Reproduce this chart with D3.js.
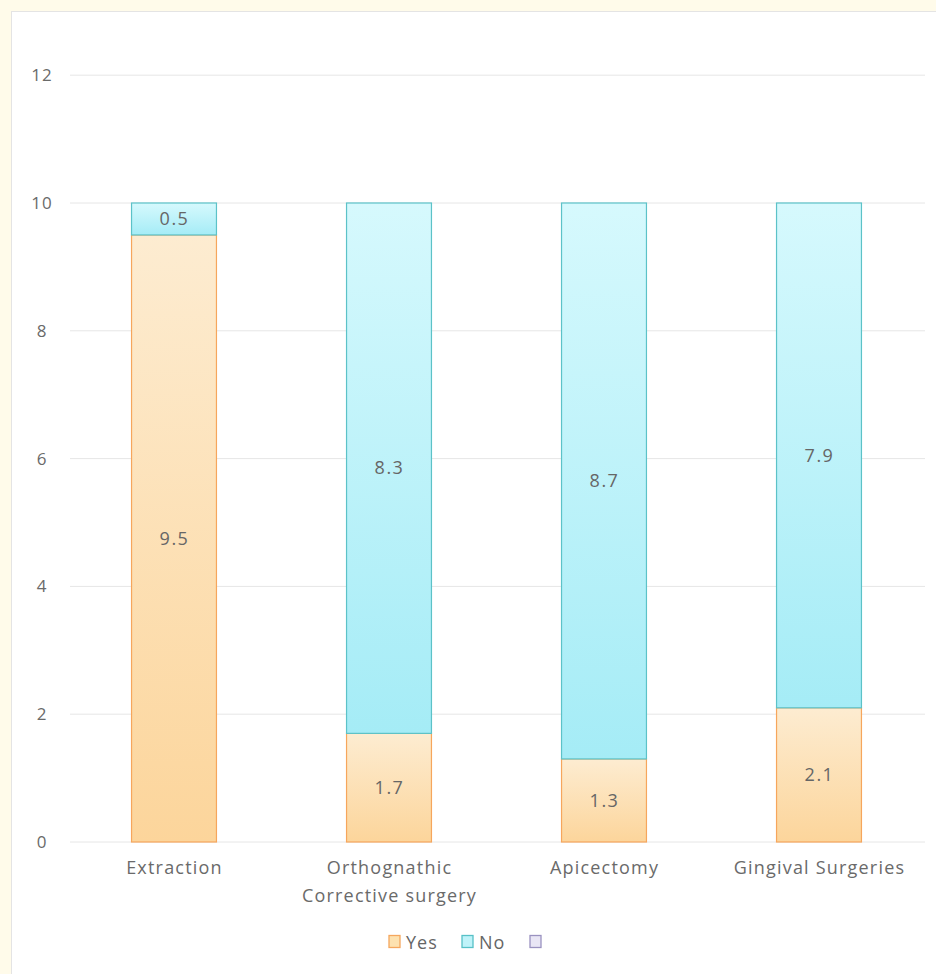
<!DOCTYPE html>
<html><head><meta charset="utf-8">
<script src="https://cdn.jsdelivr.net/npm/d3@7"></script>
<style>
html,body{margin:0;padding:0;background:#fffbea;}
svg{display:block;}
text{font-family:"Open Sans","Noto Sans",sans-serif;}
</style></head>
<body>
<script>
const categories = ["Extraction", "Orthognathic\nCorrective surgery", "Apicectomy", "Gingival Surgeries"];
const yesValues = [9.5, 1.7, 1.3, 2.1];
const noValues = [0.5, 8.3, 8.7, 7.9];
const yTicks = [0, 2, 4, 6, 8, 10, 12];
const legendLabels = ["Yes", "No", ""];

const W = 936, H = 974;
const svg = d3.select("body").append("svg").attr("width", W).attr("height", H);

const defs = svg.append("defs");
function grad(id, top, bottom) {
  const g = defs.append("linearGradient").attr("id", id).attr("x1", 0).attr("y1", 0).attr("x2", 0).attr("y2", 1);
  g.append("stop").attr("offset", "0%").attr("stop-color", top);
  g.append("stop").attr("offset", "100%").attr("stop-color", bottom);
}
grad("gYes", "#fdecd1", "#fcd59b");
grad("gNo", "#d6f9fd", "#a5ecf6");

svg.append("rect").attr("x", 0).attr("y", 0).attr("width", W).attr("height", H).attr("fill", "#fffbea");
svg.append("rect").attr("x", 11.5).attr("y", 11.5).attr("width", 930).attr("height", 975)
  .attr("fill", "#ffffff").attr("stroke", "#e4e4e4");

const x = d3.scaleBand().domain(categories).range([66, 926]).paddingInner(0.605).paddingOuter(0.3025);
const y = d3.scaleLinear().domain([0, 12]).range([842, 75.2]);

// grid
svg.append("g").selectAll("line").data(yTicks).join("line")
  .attr("x1", 70).attr("x2", 925)
  .attr("y1", d => y(d)).attr("y2", d => y(d))
  .attr("stroke", "#e6e6e6").attr("stroke-width", 1);

// y tick labels
svg.append("g").selectAll("text").data(yTicks).join("text")
  .attr("x", 42).attr("y", d => y(d)).attr("dy", "0.35em")
  .attr("text-anchor", "middle").attr("font-size", 17).attr("letter-spacing", 1).attr("fill", "#6a6a6a")
  .text(d => d);

const data = categories.map((c, i) => ({c, yes: yesValues[i], no: noValues[i]}));

const bars = svg.append("g");
bars.selectAll("rect.yes").data(data).join("rect").attr("class", "yes")
  .attr("x", d => x(d.c) + 0.5).attr("width", x.bandwidth())
  .attr("y", d => y(d.yes)).attr("height", d => y(0) - y(d.yes))
  .attr("fill", "url(#gYes)").attr("stroke", "#f6a65c").attr("stroke-width", 1.2);
bars.selectAll("rect.no").data(data).join("rect").attr("class", "no")
  .attr("x", d => x(d.c) + 0.5).attr("width", x.bandwidth())
  .attr("y", d => y(d.yes + d.no)).attr("height", d => y(d.yes) - y(d.yes + d.no))
  .attr("fill", "url(#gNo)").attr("stroke", "#5cc2c8").attr("stroke-width", 1.2);

// value labels
const lbl = svg.append("g").attr("font-size", 18).attr("letter-spacing", 1.5).attr("fill", "#666").attr("text-anchor", "middle");
data.forEach(d => {
  const cx = x(d.c) + x.bandwidth() / 2 + 1;
  lbl.append("text").attr("x", cx).attr("y", (y(0) + y(d.yes)) / 2).attr("dy", "0.35em").text(d.yes);
  lbl.append("text").attr("x", cx).attr("y", (y(d.yes) + y(d.yes + d.no)) / 2).attr("dy", "0.35em").text(d.no);
});

// category labels
const cl = svg.append("g").attr("font-size", 18).attr("letter-spacing", 1.2).attr("fill", "#6a6a6a").attr("text-anchor", "middle");
categories.forEach(c => {
  const cx = x(c) + x.bandwidth() / 2 + 1;
  const t = cl.append("text").attr("x", cx).attr("y", 874);
  c.split("\n").forEach((line, i) => {
    t.append("tspan").attr("x", cx).attr("dy", i === 0 ? 0 : 28).text(line);
  });
});

// legend
const legendColors = [
  {fill: "#fde2b0", stroke: "#f5a75e"},
  {fill: "#bff3f9", stroke: "#57c1c7"},
  {fill: "#e9e6f5", stroke: "#9a92c0"}
];
const legendX = [389, 462, 530];
const lg = svg.append("g");
legendLabels.forEach((l, i) => {
  lg.append("rect").attr("x", legendX[i]).attr("y", 935.5).attr("width", 11).attr("height", 12)
    .attr("fill", legendColors[i].fill).attr("stroke", legendColors[i].stroke).attr("stroke-width", 1.3);
  lg.append("text").attr("x", legendX[i] + 17).attr("y", 943).attr("dy", "0.35em")
    .attr("font-size", 18).attr("letter-spacing", 1).attr("fill", "#666").text(l);
});
</script>
</body></html>
